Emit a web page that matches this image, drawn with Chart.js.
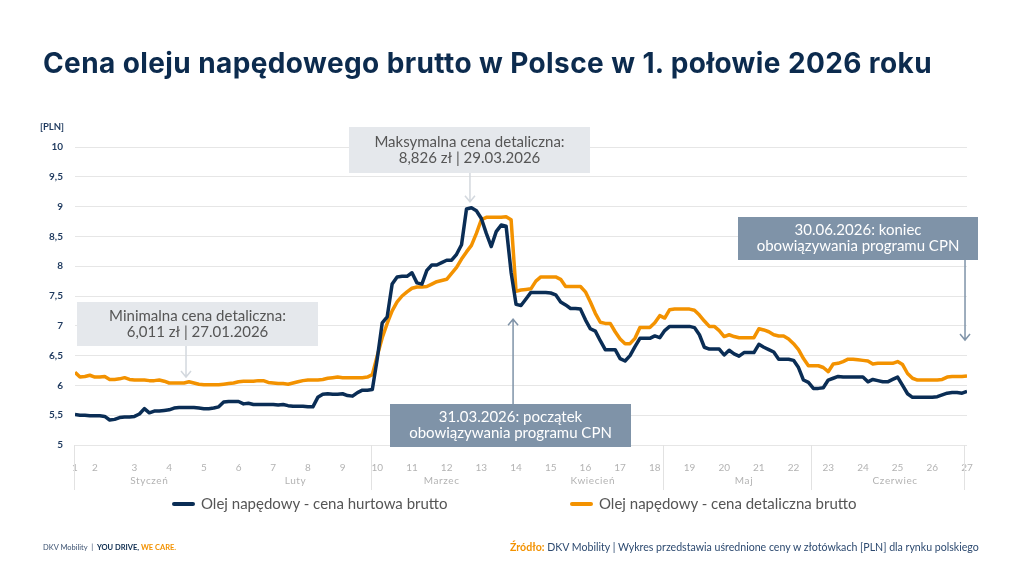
<!DOCTYPE html>
<html lang="pl">
<head>
<meta charset="utf-8">
<title>Cena oleju napędowego brutto w Polsce</title>
<script src="https://cdn.jsdelivr.net/npm/chart.js@4.4.1/dist/chart.umd.min.js"></script>
<style>
  html, body { margin: 0; padding: 0; background: #fff; }
  body { width: 1024px; height: 576px; position: relative; overflow: hidden; font-family: Lato, "Open Sans", sans-serif; }
  #chart { position: absolute; left: 0; top: 0; }
  h1 { position: absolute; left: 43px; top: 46px; margin: 0; font-family: Inter, Lato, sans-serif; font-size: 28px; font-weight: 700; color: #0c2b4e; white-space: nowrap; letter-spacing: 0.4px; }
  .unit { position: absolute; left: 40px; top: 121px; font-size: 9.5px; font-weight: 700; color: #1f3a5f; }
  .leg { position: absolute; top: 494px; font-size: 15px; color: #555; white-space: nowrap; line-height: 18px; }
  .leg i { display: inline-block; width: 23px; height: 4px; border-radius: 2px; vertical-align: middle; margin-right: 6px; position: relative; top: -1px; }
  .foot-l { position: absolute; left: 43px; top: 543px; font-size: 7.5px; color: #3b5170; white-space: nowrap; }
  .foot-l b { color: #0c2b4e; }
  .foot-l b.o { color: #f39200; }
  .foot-r { position: absolute; left: 510px; top: 541px; font-size: 10.6px; color: #2d4a70; white-space: nowrap; }
  .foot-r b { color: #f39200; }
</style>
</head>
<body>
<canvas id="chart" width="1024" height="576"></canvas>
<h1>Cena oleju napędowego brutto w Polsce w 1. połowie 2026 roku</h1>
<div class="unit">[PLN]</div>
<div class="leg" style="left:172px"><i style="background:#0a2d55"></i>Olej napędowy - cena hurtowa brutto</div>
<div class="leg" style="left:570px"><i style="background:#f39200"></i>Olej napędowy - cena detaliczna brutto</div>
<div class="foot-l">DKV Mobility &nbsp;|&nbsp; <b>YOU DRIVE,</b> <b class="o">WE CARE.</b></div>
<div class="foot-r"><b>Źródło:</b> DKV Mobility | Wykres przedstawia uśrednione ceny w złotówkach [PLN] dla rynku polskiego</div>
<script>
// daily values 01.01.2026 - 30.06.2026
const hurtowa = [
  5.51, 5.50, 5.50, 5.49, 5.49, 5.49, 5.48, 5.42, 5.43, 5.46,
  5.47, 5.47, 5.48, 5.52, 5.61, 5.54, 5.57, 5.57, 5.58, 5.59,
  5.62, 5.63, 5.63, 5.63, 5.63, 5.62, 5.61, 5.61, 5.62, 5.64,
  5.72, 5.73, 5.73, 5.73, 5.69, 5.70, 5.68, 5.68, 5.68, 5.68,
  5.68, 5.67, 5.68, 5.66, 5.65, 5.65, 5.65, 5.64, 5.64, 5.80,
  5.85, 5.86, 5.85, 5.85, 5.86, 5.83, 5.82, 5.88, 5.92, 5.92,
  5.93, 6.45, 7.05, 7.15, 7.70, 7.82, 7.83, 7.83, 7.89, 7.72,
  7.70, 7.93, 8.02, 8.02, 8.06, 8.10, 8.10, 8.20, 8.36, 8.96,
  8.98, 8.93, 8.80, 8.55, 8.33, 8.58, 8.69, 8.67, 7.90, 7.36,
  7.34, 7.45, 7.56, 7.56, 7.56, 7.56, 7.55, 7.52, 7.40, 7.35,
  7.29, 7.29, 7.28, 7.10, 6.95, 6.91, 6.75, 6.60, 6.60, 6.60,
  6.45, 6.41, 6.50, 6.65, 6.79, 6.79, 6.79, 6.83, 6.80, 6.92,
  6.99, 6.99, 6.99, 6.99, 6.99, 6.97, 6.85, 6.64, 6.61, 6.61,
  6.61, 6.51, 6.59, 6.53, 6.49, 6.55, 6.55, 6.55, 6.69, 6.64,
  6.60, 6.56, 6.44, 6.44, 6.44, 6.42, 6.30, 6.09, 6.05, 5.95,
  5.95, 5.96, 6.09, 6.12, 6.15, 6.14, 6.14, 6.14, 6.14, 6.14,
  6.06, 6.10, 6.08, 6.06, 6.06, 6.10, 6.14, 6.00, 5.86, 5.80,
  5.80, 5.80, 5.80, 5.80, 5.81, 5.84, 5.87, 5.88, 5.88, 5.87,
  5.90
];
const detaliczna = [
  6.22, 6.14, 6.15, 6.17, 6.14, 6.14, 6.15, 6.10, 6.10, 6.11,
  6.13, 6.10, 6.09, 6.09, 6.09, 6.08, 6.08, 6.09, 6.07, 6.04,
  6.04, 6.04, 6.04, 6.06, 6.04, 6.02, 6.01, 6.01, 6.01, 6.01,
  6.02, 6.03, 6.04, 6.06, 6.07, 6.07, 6.07, 6.08, 6.08, 6.05,
  6.04, 6.03, 6.03, 6.02, 6.04, 6.06, 6.08, 6.09, 6.09, 6.09,
  6.10, 6.12, 6.13, 6.14, 6.13, 6.13, 6.13, 6.13, 6.13, 6.14,
  6.18, 6.50, 6.80, 7.04, 7.25, 7.40, 7.50, 7.57, 7.63, 7.65,
  7.65, 7.66, 7.70, 7.74, 7.76, 7.78, 7.88, 7.98, 8.12, 8.24,
  8.35, 8.55, 8.78, 8.82, 8.82, 8.82, 8.82, 8.83, 8.78, 7.58,
  7.60, 7.61, 7.62, 7.75, 7.82, 7.82, 7.82, 7.82, 7.78, 7.66,
  7.66, 7.66, 7.66, 7.57, 7.40, 7.21, 7.06, 7.04, 7.04, 6.90,
  6.78, 6.70, 6.70, 6.79, 6.97, 6.97, 6.97, 7.05, 7.17, 7.13,
  7.27, 7.28, 7.28, 7.28, 7.28, 7.26, 7.18, 7.08, 6.99, 6.99,
  6.92, 6.82, 6.85, 6.82, 6.80, 6.80, 6.80, 6.80, 6.95, 6.93,
  6.90, 6.85, 6.83, 6.83, 6.78, 6.70, 6.60, 6.45, 6.33, 6.33,
  6.33, 6.30, 6.23, 6.36, 6.37, 6.40, 6.44, 6.44, 6.43, 6.42,
  6.41, 6.36, 6.37, 6.37, 6.37, 6.37, 6.40, 6.35, 6.20, 6.12,
  6.09, 6.09, 6.09, 6.09, 6.09, 6.10, 6.14, 6.15, 6.15, 6.15,
  6.16
];

// week numbers on the axis and the day index they sit at
const weekLabels = ['1','2','3','4','5','6','7','8','9','10','11','12','13','14',
  '15','16','17','18','19','20','21','22','23','24','25','26','27'];
const weekDays = [0, 4, 12, 19, 26, 33, 40, 47, 54, 61, 68, 75, 82, 89,
  96, 103, 110, 117, 124, 131, 138, 145, 152, 159, 166, 173, 180];

const months = ['Styczeń', 'Luty', 'Marzec', 'Kwiecień', 'Maj', 'Czerwiec'];
const monthDays = [31, 28, 31, 30, 31, 30];
const monthSeparators = [59.7, 118.6, 148.5, 179.4];

const NAVY = '#0a2d55';
const ORANGE = '#f39200';

const notes = [
  { lines: ['Minimalna cena detaliczna:', '6,011 zł | 27.01.2026'], day: 22.4, value: 6.14,
    box: [77, 302, 241, 44], fill: '#e5e8ec', text: '#555', arrow: '#d3d8de' },
  { lines: ['Maksymalna cena detaliczna:', '8,826 zł | 29.03.2026'], day: 79.7, value: 9.08,
    box: [349, 127, 241, 46], fill: '#e5e8ec', text: '#555', arrow: '#d3d8de' },
  { lines: ['31.03.2026: początek', 'obowiązywania programu CPN'], day: 88.4, value: 7.11,
    box: [390, 404, 241, 43], fill: '#7f93a8', text: '#fff', arrow: '#7f93a8' },
  { lines: ['30.06.2026: koniec', 'obowiązywania programu CPN'], day: 179.6, value: 6.76,
    box: [738, 217, 240, 43], fill: '#7f93a8', text: '#fff', arrow: '#7f93a8' }
];

const axisBox = {
  id: 'axisBox',
  afterDraw(chart) {
    const { ctx, chartArea, scales: { x } } = chart;
    const top = chartArea.bottom, bot = chartArea.bottom + 45;
    ctx.save();
    ctx.strokeStyle = '#e2e2e2';
    ctx.lineWidth = 1;
    const seps = [chartArea.left - 1].concat(monthSeparators.map(v => x.getPixelForValue(v)));
    seps.forEach(px => {
      const p = Math.round(px) + 0.5;
      ctx.beginPath(); ctx.moveTo(p, top); ctx.lineTo(p, bot); ctx.stroke();
    });
    ctx.fillStyle = '#b3b3b3';
    ctx.font = '10px Lato';
    ctx.letterSpacing = '0.6px';
    ctx.textAlign = 'center';
    ctx.textBaseline = 'middle';
    let start = 0;
    months.forEach((m, i) => {
      ctx.fillText(m, x.getPixelForValue(start + monthDays[i] / 2 - 0.5), top + 36);
      start += monthDays[i];
    });
    ctx.restore();
  }
};

const callouts = {
  id: 'callouts',
  afterDatasetsDraw(chart) {
    const { ctx, scales: { x, y } } = chart;
    ctx.save();
    notes.forEach(n => {
      const [bx, by, bw, bh] = n.box;
      const ax = x.getPixelForValue(n.day), ay = y.getPixelForValue(n.value);
      // arrow from box edge to data point
      const from = ay > by ? by + bh : by;
      const dir = ay > from ? 1 : -1;
      ctx.strokeStyle = n.arrow;
      ctx.lineWidth = 1.5;
      ctx.beginPath();
      ctx.moveTo(ax, from); ctx.lineTo(ax, ay);
      ctx.moveTo(ax - 5, ay - dir * 6); ctx.lineTo(ax, ay); ctx.lineTo(ax + 5, ay - dir * 6);
      ctx.stroke();
      ctx.fillStyle = n.fill;
      ctx.fillRect(bx, by, bw, bh);
      ctx.fillStyle = n.text;
      ctx.font = '15px Lato';
      ctx.textAlign = 'center';
      ctx.textBaseline = 'middle';
      ctx.fillText(n.lines[0], bx + bw / 2, by + bh / 2 - 8);
      ctx.fillText(n.lines[1], bx + bw / 2, by + bh / 2 + 8);
    });
    ctx.restore();
  }
};

new Chart(document.getElementById('chart'), {
  type: 'line',
  data: {
    datasets: [
      { label: 'Olej napędowy - cena hurtowa brutto', data: hurtowa.map((v, i) => ({ x: i, y: v })),
        borderColor: NAVY, borderWidth: 3.5, pointRadius: 0, tension: 0, borderJoinStyle: 'round' },
      { label: 'Olej napędowy - cena detaliczna brutto', data: detaliczna.map((v, i) => ({ x: i, y: v })),
        borderColor: ORANGE, borderWidth: 3.5, pointRadius: 0, tension: 0, borderJoinStyle: 'round' }
    ]
  },
  options: {
    responsive: false,
    animation: false,
    layout: { padding: { left: 30, top: 147, right: 57, bottom: 81 } },
    plugins: { legend: { display: false }, tooltip: { enabled: false } },
    scales: {
      x: {
        type: 'linear', min: 0, max: 180,
        grid: { display: false },
        border: { display: false },
        afterBuildTicks: s => { s.ticks = weekDays.map(v => ({ value: v })); },
        afterFit: s => { s.height = 50; },
        ticks: {
          autoSkip: false, maxRotation: 0, padding: 9,
          color: '#b3b3b3', font: { family: 'Lato', size: 10 },
          callback: v => weekLabels[weekDays.indexOf(v)]
        }
      },
      y: {
        min: 5, max: 10,
        afterFit: s => { s.width = 45; },
        grid: { color: '#e6e6e6', drawTicks: false },
        border: { display: false },
        ticks: {
          stepSize: 0.5, padding: 12,
          color: '#1f3a5f', font: { family: 'Lato', size: 10, weight: 'bold' },
          callback: v => String(v).replace('.', ',')
        }
      }
    }
  },
  plugins: [axisBox, callouts]
});
</script>
</body>
</html>
